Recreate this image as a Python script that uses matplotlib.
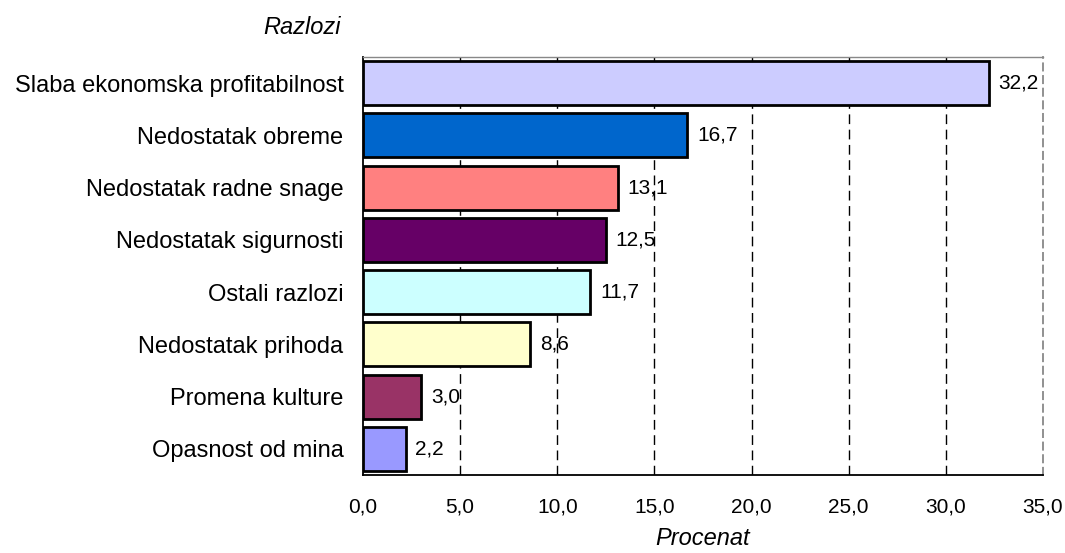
import matplotlib
matplotlib.use("Agg")
import matplotlib.pyplot as plt
from matplotlib.ticker import FuncFormatter

categories = ["Slaba ekonomska profitabilnost", "Nedostatak obreme",
              "Nedostatak radne snage", "Nedostatak sigurnosti",
              "Ostali razlozi", "Nedostatak prihoda",
              "Promena kulture", "Opasnost od mina"]
values = [32.2, 16.7, 13.1, 12.5, 11.7, 8.6, 3.0, 2.2]
colors = ["#CCCCFF", "#0066CC", "#FF8080", "#660066",
          "#CCFFFF", "#FFFFCC", "#993366", "#9999FF"]
x_ticks = [0, 5, 10, 15, 20, 25, 30, 35]

plt.rcParams['font.family'] = ['Liberation Sans', 'DejaVu Sans']

fig = plt.figure(figsize=(10.65, 5.53), dpi=100)
ax = fig.add_axes([363/1065, 1-475/553, (1043-363)/1065, (475-57)/553])

ypos = list(range(len(categories)))
ax.barh(ypos, values, height=0.84, color=colors, edgecolor="black",
        linewidth=2.0, zorder=3)
for y, v in zip(ypos, values):
    ax.annotate(f"{v:.1f}".replace(".", ","), (v, y), xytext=(7, 0),
                textcoords="offset points", va="center", ha="left",
                fontsize=15, zorder=4)

ax.set_ylim(len(categories) - 0.5, -0.5)
ax.set_xlim(0, 35)
ax.set_yticks(ypos)
ax.set_yticklabels(categories, fontsize=17)
ax.set_xticks(x_ticks)
ax.xaxis.set_major_formatter(FuncFormatter(lambda v, p: f"{v:.1f}".replace(".", ",")))
ax.tick_params(axis="x", labelsize=15, length=0, pad=16)
ax.tick_params(axis="y", length=0, pad=14)

for xv in x_ticks[1:-1]:
    ax.axvline(xv, color="black", lw=1.0, ls=(0, (7, 4)), zorder=1)

ax.spines["left"].set_color("black")
ax.spines["left"].set_linewidth(1.3)
ax.spines["bottom"].set_color("black")
ax.spines["bottom"].set_linewidth(1.3)
ax.spines["top"].set_color("#888888")
ax.spines["top"].set_linewidth(1.0)
ax.spines["right"].set_color("#888888")
ax.spines["right"].set_linewidth(1.3)
ax.spines["right"].set_linestyle((0, (4, 3)))

fig.text(703/1065, 1-545/553, "Procenat", fontsize=17, style="italic",
         ha="center", va="baseline")
fig.text(341/1065, 1-27/553, "Razlozi", fontsize=17, style="italic",
         ha="right", va="center")

fig.savefig("out.png", dpi=100)
